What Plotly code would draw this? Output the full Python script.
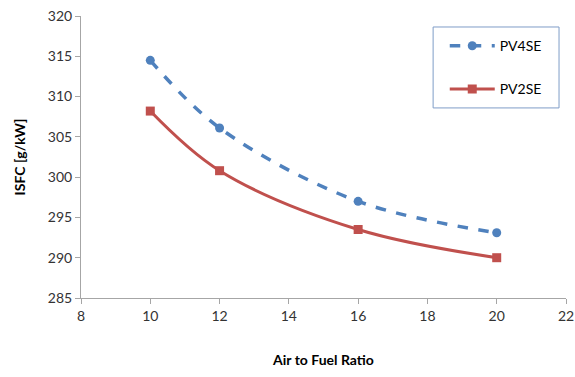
import plotly.graph_objects as go

afr = [10, 12, 16, 20]
pv4se = [314.5, 306.1, 297.0, 293.1]
pv2se = [308.2, 300.8, 293.5, 290.0]
x_ticks = [8, 10, 12, 14, 16, 18, 20, 22]
y_ticks = [285, 290, 295, 300, 305, 310, 315, 320]

FONT = "Lato, Open Sans, sans-serif"

fig = go.Figure()
fig.add_trace(go.Scatter(
    x=afr, y=pv4se, name="PV4SE", mode="lines+markers", legendgroup="a",
    line=dict(color="#4F81BD", width=3.5, dash="dash", shape="spline"),
    marker=dict(symbol="circle", size=9, color="#4F81BD"),
))
fig.add_trace(go.Scatter(
    x=afr, y=pv2se, name="PV2SE", mode="lines+markers", legendgroup="b",
    line=dict(color="#C0504D", width=3, shape="spline"),
    marker=dict(symbol="square", size=9, color="#C0504D"),
))

axis_common = dict(
    showgrid=False, zeroline=False, showline=True, linecolor="#A6A6A6", linewidth=1,
    ticks="outside", tickcolor="#A6A6A6", ticklen=5, automargin=False,
    tickfont=dict(family=FONT, size=14, color="#333333"),
)
fig.update_xaxes(range=[8, 22], tickvals=x_ticks, **axis_common,
                 title=dict(text="<b>Air to Fuel Ratio</b>", font=dict(family=FONT, size=14, color="#000"), standoff=32))
fig.update_yaxes(range=[285, 320], tickvals=y_ticks, **axis_common,
                 title=dict(text="<b>ISFC [g/kW]</b>", font=dict(family=FONT, size=14, color="#000"), standoff=18))

fig.add_shape(type="rect", xref="paper", yref="paper",
              x0=0.726, x1=0.9856, y0=0.674, y1=0.961,
              line=dict(color="#7F9DC7", width=1), fillcolor="white", layer="below")

fig.update_layout(
    width=575, height=377,
    margin=dict(l=81, r=9, t=16, b=79),
    plot_bgcolor="white", paper_bgcolor="white",
    showlegend=True,
    legend=dict(x=0.75, y=0.95, xanchor="left", yanchor="top",
                borderwidth=0, bgcolor="rgba(0,0,0,0)",
                font=dict(family=FONT, size=14, color="#000"),
                tracegroupgap=22, itemwidth=45),
)

fig.write_html("out.html", config={"displayModeBar": False},
               post_script="document.body.style.margin='0';")
